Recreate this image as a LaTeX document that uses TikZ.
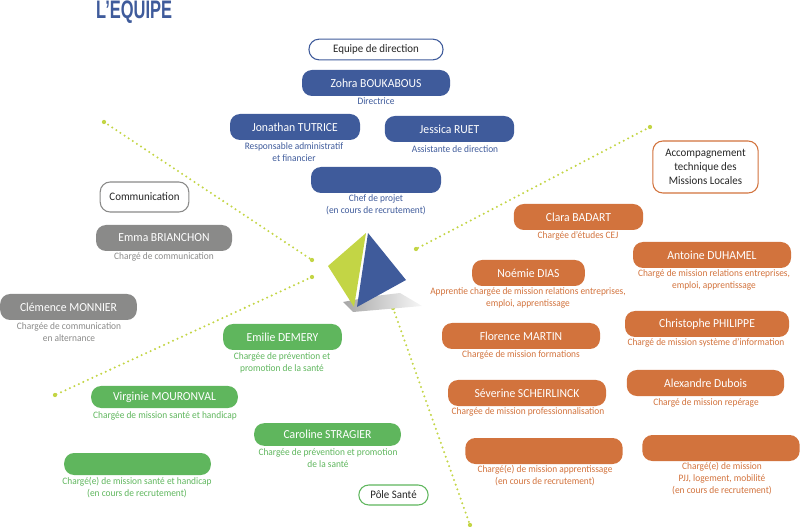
\documentclass[tikz,border=0pt]{standalone}
\usepackage{fontspec}
\setmainfont[FakeStretch=0.95]{Carlito}
\newfontfamily\titlefont{Liberation Sans}
\definecolor{blueteam}{HTML}{3F5B9B}
\definecolor{orangeteam}{HTML}{D2733D}
\definecolor{greenteam}{HTML}{5FB65D}
\definecolor{greyteam}{HTML}{8A8A89}
\definecolor{limeteam}{HTML}{C3D545}

\begin{document}
\begin{tikzpicture}[x=0.75pt,y=-0.75pt,
  pill/.style={rounded corners=7.5pt,inner sep=0pt,minimum height=19.5pt,text=white,font=\fontsize{9.2}{11}\selectfont},
  tag/.style={draw,thick,fill=white,rounded corners=7.5pt,inner sep=0pt,text=black!85,align=center,font=\fontsize{8.6}{10.5}\selectfont},
  role/.style={align=center,inner sep=0pt,font=\fontsize{7.4}{9}\selectfont},
  dotline/.style={limeteam,line width=1.7pt,line cap=round,dash pattern=on 0pt off 3.7pt}]
\useasboundingbox (0,0) rectangle (800,527);

\node[anchor=base west,inner sep=0pt,text=blueteam,xscale=0.65,font=\titlefont\bfseries\fontsize{19}{19}\selectfont] (title) at (96,19) {L’EQUIPE};

\coordinate (dotNWa) at (104,122);
\coordinate (dotNWb) at (312,260);
\coordinate (dotNEa) at (650,127);
\coordinate (dotNEb) at (416,249);
\coordinate (dotSWa) at (312,277);
\coordinate (dotSWb) at (55,395);
\coordinate (dotSEa) at (393,308);
\coordinate (dotSEb) at (470,525);
\draw[dotline] (dotNWa) -- (dotNWb);
\draw[dotline] (dotNEa) -- (dotNEb);
\draw[dotline] (dotSWa) -- (dotSWb);
\draw[dotline] (dotSEa) -- (dotSEb);
\fill[limeteam] (dotNWa) circle (1.6pt) (dotNWb) circle (1.6pt) (dotNEa) circle (1.6pt) (dotNEb) circle (1.6pt);
\fill[limeteam] (dotSWa) circle (1.6pt) (dotSWb) circle (1.6pt) (dotSEa) circle (1.6pt) (dotSEb) circle (1.6pt);

\shade[left color=black!35,right color=black!3] (343,302) -- (353,312) -- (422,306) -- (400,293) -- (375,296) -- cycle;
\fill[limeteam] (328,266) -- (366,233) -- (354,307) -- cycle;
\fill[blueteam] (368,233) -- (406,280) -- (357,307) -- cycle;

\node[tag,draw=blueteam,minimum width=100.5pt,minimum height=15.5pt] (direction) at (376,49.5) {Equipe de direction};
\node[pill,fill=blueteam,minimum width=111pt] (zohra) at (376,83) {Zohra BOUKABOUS};
\node[role,text=blueteam] (zohrarole) at (376,101) {Directrice};
\node[pill,fill=blueteam,minimum width=97.5pt] (jonathan) at (295,127) {Jonathan TUTRICE};
\node[role,text=blueteam] (jonathanrole) at (294,152) {Responsable administratif\\et financier};
\node[pill,fill=blueteam,minimum width=97pt] (jessica) at (449.5,129) {Jessica RUET};
\node[role,text=blueteam] (jessicarole) at (455,149) {Assistante de direction};
\node[pill,fill=blueteam,minimum width=97.5pt] (chef) at (376,180) {};
\node[role,text=blueteam] (chefrole) at (376,204.5) {Chef de projet\\(en cours de recrutement)};

\node[tag,draw=greyteam,minimum width=66.5pt,minimum height=22.5pt] (communication) at (144.5,197) {Communication};
\node[pill,fill=greyteam,minimum width=102pt] (emma) at (164,238) {Emma BRIANCHON};
\node[role,text=greyteam] (emmarole) at (164,257) {Chargé de communication};
\node[pill,fill=greyteam,minimum width=102.5pt] (clemence) at (68.5,307) {Clémence MONNIER};
\node[role,text=greyteam] (clemencerole) at (69,332) {Chargée de communication\\en alternance};

\node[pill,fill=greenteam,minimum width=89pt] (emilie) at (282.5,337) {Emilie DEMERY};
\node[role,text=greenteam] (emilierole) at (282,362.5) {Chargée de prévention et\\promotion de la santé};
\node[pill,fill=greenteam,minimum width=110pt,minimum height=16.5pt] (virginie) at (164.5,397) {Virginie MOURONVAL};
\node[role,text=greenteam] (virginierole) at (165,416) {Chargée de mission santé et handicap};
\node[pill,fill=greenteam,minimum width=110pt,minimum height=17pt] (caroline) at (327.5,434.5) {Caroline STRAGIER};
\node[role,text=greenteam] (carolinerole) at (328,458.5) {Chargée de prévention et promotion\\de la santé};
\node[pill,fill=greenteam,minimum width=110pt,minimum height=16.5pt] (vacantsante) at (137.5,464) {};
\node[role,text=greenteam] (vacantsanterole) at (137,488) {Chargé(e) de mission santé et handicap\\(en cours de recrutement)};
\node[tag,draw=greenteam,minimum width=52pt,minimum height=15pt] (polesante) at (393.5,495) {Pôle Santé};

\node[tag,draw=orangeteam,minimum width=79pt,minimum height=39pt] (accompagnement) at (705.5,167) {Accompagnement\\technique des\\Missions Locales};
\node[pill,fill=orangeteam,minimum width=97pt] (clara) at (578.5,217) {Clara BADART};
\node[role,text=orangeteam] (clararole) at (578,236) {Chargée d’études CEJ};
\node[pill,fill=orangeteam,minimum width=118.5pt] (antoine) at (712,255) {Antoine DUHAMEL};
\node[role,text=orangeteam] (antoinerole) at (714,280) {Chargé de mission relations entreprises,\\emploi, apprentissage};
\node[pill,fill=orangeteam,minimum width=84.5pt] (noemie) at (528.5,273) {Noémie DIAS};
\node[role,text=orangeteam] (noemierole) at (528,298) {Apprentie chargée de mission relations entreprises,\\emploi, apprentissage};
\node[pill,fill=orangeteam,minimum width=118.5pt] (florence) at (521,336) {Florence MARTIN};
\node[role,text=orangeteam] (florencerole) at (521,355) {Chargée de mission formations};
\node[pill,fill=orangeteam,minimum width=123pt] (christophe) at (707,324) {Christophe PHILIPPE};
\node[role,text=orangeteam] (christopherole) at (706,343) {Chargé de mission système d’information};
\node[pill,fill=orangeteam,minimum width=118pt] (alexandre) at (705.5,383) {Alexandre Dubois};
\node[role,text=orangeteam] (alexandrerole) at (706,403) {Chargé de mission repérage};
\node[pill,fill=orangeteam,minimum width=118.5pt] (severine) at (527,393) {Séverine SCHEIRLINCK};
\node[role,text=orangeteam] (severinerole) at (528,412) {Chargée de mission professionnalisation};
\node[pill,fill=orangeteam,minimum width=118pt] (vacantappr) at (544,451) {};
\node[role,text=orangeteam] (vacantapprrole) at (545,476) {Chargé(e) de mission apprentissage\\(en cours de recrutement)};
\node[pill,fill=orangeteam,minimum width=118pt] (vacantpjj) at (721,448) {};
\node[role,text=orangeteam] (vacantpjjrole) at (722,479) {Chargé(e) de mission\\PJJ, logement, mobilité\\(en cours de recrutement)};
\end{tikzpicture}
\end{document}
